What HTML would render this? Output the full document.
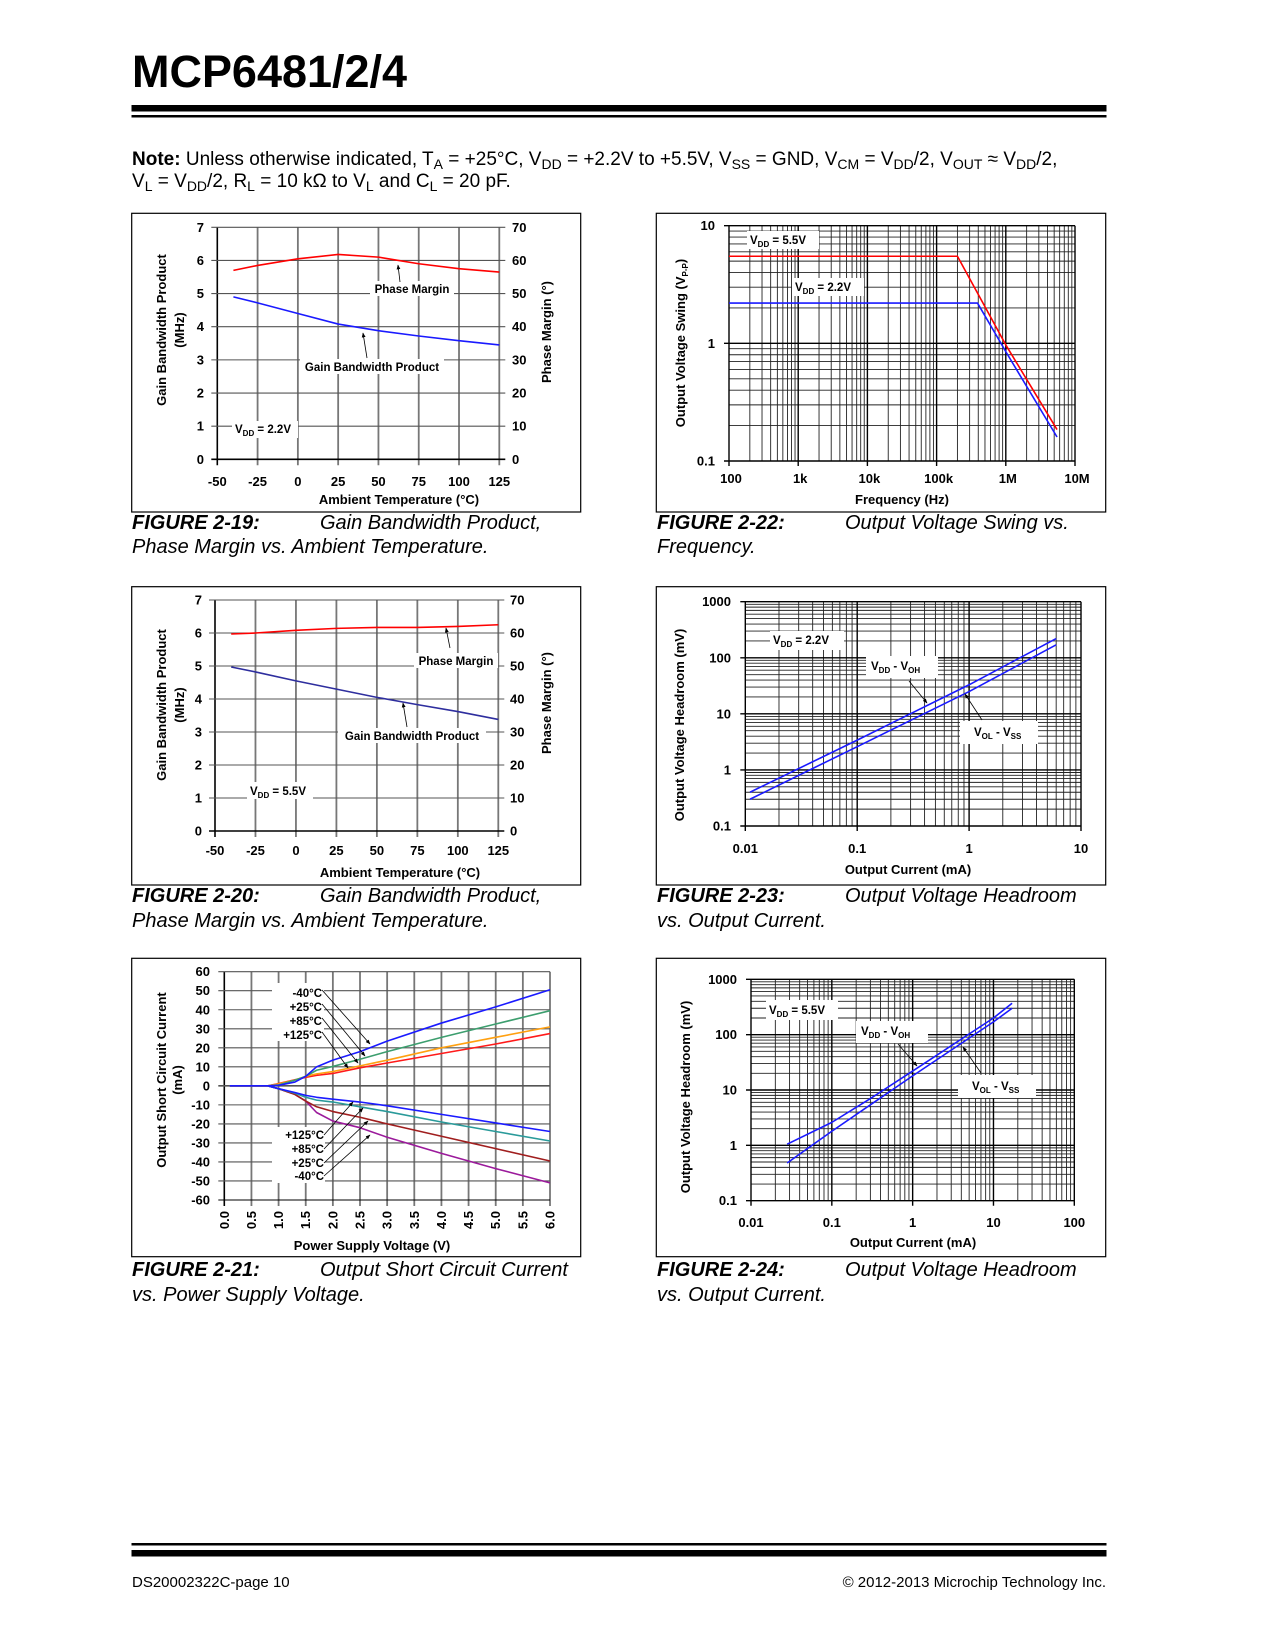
<!DOCTYPE html>
<html><head><meta charset="utf-8"><title>MCP6481/2/4 page 10</title>
<style>
html,body{margin:0;padding:0;background:#fff;}
svg{display:block;font-family:"Liberation Sans",Arial,sans-serif;}
.t{font-weight:bold;font-size:13px;fill:#000;}
.lab{font-weight:bold;font-size:11.5px;fill:#000;}
.cap{font-size:20px;font-style:italic;fill:#000;}
</style></head>
<body>
<svg id="page" width="1275" height="1650" viewBox="0 0 1275 1650" xmlns="http://www.w3.org/2000/svg">
<defs>
<marker id="ah" viewBox="0 0 10 10" refX="9" refY="5" markerWidth="6" markerHeight="6" orient="auto"><path d="M0,1 L10,5 L0,9 z" fill="#000"/></marker>
</defs>
<rect width="1275" height="1650" fill="#fff"/>
<!-- header -->
<text x="132" y="87" font-size="45" font-weight="bold" textLength="275" lengthAdjust="spacingAndGlyphs">MCP6481/2/4</text>
<rect x="131.5" y="105" width="975" height="6.5" fill="#000"/>
<rect x="131.5" y="115" width="975" height="2.5" fill="#000"/>
<text x="132" y="165" font-size="19"><tspan font-weight="bold">Note:</tspan> Unless otherwise indicated, T<tspan font-size="14" dy="4">A</tspan><tspan dy="-4"> = +25°C, V</tspan><tspan font-size="14" dy="4">DD</tspan><tspan dy="-4"> = +2.2V to +5.5V, V</tspan><tspan font-size="14" dy="4">SS</tspan><tspan dy="-4"> = GND, V</tspan><tspan font-size="14" dy="4">CM</tspan><tspan dy="-4"> = V</tspan><tspan font-size="14" dy="4">DD</tspan><tspan dy="-4">/2, V</tspan><tspan font-size="14" dy="4">OUT</tspan><tspan dy="-4"> ≈ V</tspan><tspan font-size="14" dy="4">DD</tspan><tspan dy="-4">/2,</tspan></text>
<text x="132" y="187" font-size="19">V<tspan font-size="14" dy="4">L</tspan><tspan dy="-4"> = V</tspan><tspan font-size="14" dy="4">DD</tspan><tspan dy="-4">/2, R</tspan><tspan font-size="14" dy="4">L</tspan><tspan dy="-4"> = 10 kΩ to V</tspan><tspan font-size="14" dy="4">L</tspan><tspan dy="-4"> and C</tspan><tspan font-size="14" dy="4">L</tspan><tspan dy="-4"> = 20 pF.</tspan></text>

<!-- chart boxes -->
<rect x="131.7" y="213.3" width="449" height="298.7" fill="none" stroke="#000" stroke-width="1.2"/>
<rect x="656.3" y="213.3" width="449.4" height="298.7" fill="none" stroke="#000" stroke-width="1.2"/>
<rect x="131.7" y="586.7" width="449" height="298.3" fill="none" stroke="#000" stroke-width="1.2"/>
<rect x="656.3" y="586.7" width="449.4" height="298.3" fill="none" stroke="#000" stroke-width="1.2"/>
<rect x="131.7" y="958.3" width="449" height="298.4" fill="none" stroke="#000" stroke-width="1.2"/>
<rect x="656.3" y="958.3" width="449.4" height="298.4" fill="none" stroke="#000" stroke-width="1.2"/>

<!-- plot groups filled by script -->
<g id="p19"></g>
<g id="p20"></g>
<g id="p21"></g>
<g id="p22"></g>
<g id="p23"></g>
<g id="p24"></g>

<!-- FIG 19 labels -->
<g>
<rect x="370" y="281" width="84" height="15" fill="#fff"/>
<text class="lab" x="412" y="293" text-anchor="middle">Phase Margin</text>
<line x1="400" y1="282" x2="398" y2="265" stroke="#000" stroke-width="0.8" marker-end="url(#ah)"/>
<rect x="300" y="359" width="144" height="15" fill="#fff"/>
<text class="lab" x="372" y="371" text-anchor="middle">Gain Bandwidth Product</text>
<line x1="367" y1="358" x2="363" y2="333" stroke="#000" stroke-width="0.8" marker-end="url(#ah)"/>
<rect x="232" y="421" width="66" height="17" fill="#fff"/>
<text class="lab" x="235" y="433">V<tspan font-size="8" dy="3">DD</tspan><tspan dy="-3"> = 2.2V</tspan></text>
</g>
<text class="t" transform="translate(166,330) rotate(-90)" text-anchor="middle">Gain Bandwidth Product</text>
<text class="t" transform="translate(184,330) rotate(-90)" text-anchor="middle">(MHz)</text>
<text class="t" transform="translate(551,332) rotate(-90)" text-anchor="middle">Phase Margin (°)</text>
<text class="t" x="399" y="504" text-anchor="middle">Ambient Temperature (°C)</text>
<text class="cap" x="132" y="529"><tspan font-weight="bold">FIGURE 2-19:</tspan><tspan x="320">Gain Bandwidth Product,</tspan></text>
<text class="cap" x="132" y="553">Phase Margin vs. Ambient Temperature.</text>

<!-- FIG 20 labels -->
<g>
<rect x="414" y="653" width="84" height="15" fill="#fff"/>
<text class="lab" x="456" y="665" text-anchor="middle">Phase Margin</text>
<line x1="450" y1="648" x2="446" y2="628" stroke="#000" stroke-width="0.8" marker-end="url(#ah)"/>
<rect x="338" y="728" width="148" height="15" fill="#fff"/>
<text class="lab" x="412" y="740" text-anchor="middle">Gain Bandwidth Product</text>
<line x1="407" y1="727" x2="403" y2="703" stroke="#000" stroke-width="0.8" marker-end="url(#ah)"/>
<rect x="247" y="782" width="66" height="17" fill="#fff"/>
<text class="lab" x="250" y="795">V<tspan font-size="8" dy="3">DD</tspan><tspan dy="-3"> = 5.5V</tspan></text>
</g>
<text class="t" transform="translate(166,705) rotate(-90)" text-anchor="middle">Gain Bandwidth Product</text>
<text class="t" transform="translate(184,705) rotate(-90)" text-anchor="middle">(MHz)</text>
<text class="t" transform="translate(551,703) rotate(-90)" text-anchor="middle">Phase Margin (°)</text>
<text class="t" x="400" y="877" text-anchor="middle">Ambient Temperature (°C)</text>
<text class="cap" x="132" y="902"><tspan font-weight="bold">FIGURE 2-20:</tspan><tspan x="320">Gain Bandwidth Product,</tspan></text>
<text class="cap" x="132" y="927">Phase Margin vs. Ambient Temperature.</text>

<!-- FIG 21 labels -->
<g>
<rect x="272" y="983" width="52" height="58" fill="#fff"/>
<text class="lab" x="322" y="997" text-anchor="end">-40°C</text>
<text class="lab" x="322" y="1011" text-anchor="end">+25°C</text>
<text class="lab" x="322" y="1025" text-anchor="end">+85°C</text>
<text class="lab" x="322" y="1039" text-anchor="end">+125°C</text>
<line x1="322" y1="990" x2="370" y2="1044" stroke="#000" stroke-width="0.8" marker-end="url(#ah)"/>
<line x1="322" y1="1004" x2="365" y2="1056" stroke="#000" stroke-width="0.8" marker-end="url(#ah)"/>
<line x1="322" y1="1018" x2="358" y2="1063" stroke="#000" stroke-width="0.8" marker-end="url(#ah)"/>
<line x1="322" y1="1032" x2="348" y2="1068" stroke="#000" stroke-width="0.8" marker-end="url(#ah)"/>
<rect x="272" y="1127" width="53" height="56" fill="#fff"/>
<text class="lab" x="324" y="1139" text-anchor="end">+125°C</text>
<text class="lab" x="324" y="1153" text-anchor="end">+85°C</text>
<text class="lab" x="324" y="1167" text-anchor="end">+25°C</text>
<text class="lab" x="324" y="1180" text-anchor="end">-40°C</text>
<line x1="324" y1="1135" x2="353" y2="1102" stroke="#000" stroke-width="0.8" marker-end="url(#ah)"/>
<line x1="324" y1="1149" x2="363" y2="1108" stroke="#000" stroke-width="0.8" marker-end="url(#ah)"/>
<line x1="324" y1="1163" x2="368" y2="1121" stroke="#000" stroke-width="0.8" marker-end="url(#ah)"/>
<line x1="324" y1="1176" x2="370" y2="1135" stroke="#000" stroke-width="0.8" marker-end="url(#ah)"/>
</g>
<text class="t" transform="translate(166,1080) rotate(-90)" text-anchor="middle">Output Short Circuit Current</text>
<text class="t" transform="translate(182,1080) rotate(-90)" text-anchor="middle">(mA)</text>
<text class="t" x="372" y="1250" text-anchor="middle">Power Supply Voltage (V)</text>
<text class="cap" x="132" y="1276"><tspan font-weight="bold">FIGURE 2-21:</tspan><tspan x="320">Output Short Circuit Current</tspan></text>
<text class="cap" x="132" y="1301">vs. Power Supply Voltage.</text>

<!-- FIG 22 labels -->
<g>
<rect x="747" y="231" width="72" height="18" fill="#fff"/>
<text class="lab" x="750" y="244">V<tspan font-size="8" dy="3">DD</tspan><tspan dy="-3"> = 5.5V</tspan></text>
<rect x="792" y="278" width="72" height="18" fill="#fff"/>
<text class="lab" x="795" y="291">V<tspan font-size="8" dy="3">DD</tspan><tspan dy="-3"> = 2.2V</tspan></text>
</g>
<text class="t" transform="translate(685,343) rotate(-90)" text-anchor="middle">Output Voltage Swing (V<tspan font-size="8" dy="3">P-P</tspan><tspan dy="-3">)</tspan></text>
<text class="t" x="902" y="504" text-anchor="middle">Frequency (Hz)</text>
<text class="cap" x="657" y="529"><tspan font-weight="bold">FIGURE 2-22:</tspan><tspan x="845">Output Voltage Swing vs.</tspan></text>
<text class="cap" x="657" y="553">Frequency.</text>

<!-- FIG 23 labels -->
<g>
<rect x="770" y="631" width="74" height="19" fill="#fff"/>
<text class="lab" x="773" y="644">V<tspan font-size="8" dy="3">DD</tspan><tspan dy="-3"> = 2.2V</tspan></text>
<rect x="866" y="656" width="72" height="22" fill="#fff"/>
<text class="lab" x="871" y="670">V<tspan font-size="8" dy="3">DD</tspan><tspan dy="-3"> - V</tspan><tspan font-size="8" dy="3">OH</tspan></text>
<line x1="909" y1="681" x2="927" y2="703" stroke="#000" stroke-width="0.8" marker-end="url(#ah)"/>
<rect x="960" y="721" width="78" height="23" fill="#fff"/>
<text class="lab" x="974" y="736">V<tspan font-size="8" dy="3">OL</tspan><tspan dy="-3"> - V</tspan><tspan font-size="8" dy="3">SS</tspan></text>
<line x1="982" y1="720" x2="965" y2="694" stroke="#000" stroke-width="0.8" marker-end="url(#ah)"/>
</g>
<text class="t" transform="translate(684,725) rotate(-90)" text-anchor="middle">Output Voltage Headroom (mV)</text>
<text class="t" x="908" y="874" text-anchor="middle">Output Current (mA)</text>
<text class="cap" x="657" y="902"><tspan font-weight="bold">FIGURE 2-23:</tspan><tspan x="845">Output Voltage Headroom</tspan></text>
<text class="cap" x="657" y="927">vs. Output Current.</text>

<!-- FIG 24 labels -->
<g>
<rect x="766" y="1000" width="72" height="20" fill="#fff"/>
<text class="lab" x="769" y="1014">V<tspan font-size="8" dy="3">DD</tspan><tspan dy="-3"> = 5.5V</tspan></text>
<rect x="856" y="1021" width="72" height="22" fill="#fff"/>
<text class="lab" x="861" y="1035">V<tspan font-size="8" dy="3">DD</tspan><tspan dy="-3"> - V</tspan><tspan font-size="8" dy="3">OH</tspan></text>
<line x1="898" y1="1044" x2="917" y2="1066" stroke="#000" stroke-width="0.8" marker-end="url(#ah)"/>
<rect x="958" y="1075" width="78" height="23" fill="#fff"/>
<text class="lab" x="972" y="1090">V<tspan font-size="8" dy="3">OL</tspan><tspan dy="-3"> - V</tspan><tspan font-size="8" dy="3">SS</tspan></text>
<line x1="981" y1="1073" x2="963" y2="1047" stroke="#000" stroke-width="0.8" marker-end="url(#ah)"/>
</g>
<text class="t" transform="translate(690,1097) rotate(-90)" text-anchor="middle">Output Voltage Headroom (mV)</text>
<text class="t" x="913" y="1247" text-anchor="middle">Output Current (mA)</text>
<text class="cap" x="657" y="1276"><tspan font-weight="bold">FIGURE 2-24:</tspan><tspan x="845">Output Voltage Headroom</tspan></text>
<text class="cap" x="657" y="1301">vs. Output Current.</text>

<!-- footer -->
<rect x="131.5" y="1543" width="975" height="2.5" fill="#000"/>
<rect x="131.5" y="1550" width="975" height="6.5" fill="#000"/>
<text x="132" y="1587" font-size="15">DS20002322C-page 10</text>
<text x="1106" y="1587" font-size="15" text-anchor="end">© 2012-2013 Microchip Technology Inc.</text>
</svg>

<script>
// ---------- data ----------
const tempX19 = [-40, -25, 0, 25, 50, 75, 100, 125];
const gbw19 = [4.9, 4.72, 4.4, 4.08, 3.88, 3.72, 3.58, 3.45];
const pmX19 = [-40, -25, 0, 25, 50, 60, 75, 100, 125];
const pm19 = [57, 58.5, 60.5, 61.8, 61, 60.2, 59, 57.5, 56.5];

const tempX20 = [-40, -25, 0, 25, 50, 75, 100, 125];
const gbw20 = [4.97, 4.82, 4.55, 4.3, 4.05, 3.83, 3.62, 3.38];
const pm20 = [59.7, 60, 60.8, 61.4, 61.7, 61.7, 62, 62.5];

const tempTicks = [-50, -25, 0, 25, 50, 75, 100, 125];
const gbwTicks = [0, 1, 2, 3, 4, 5, 6, 7];
const pmTicks = [0, 10, 20, 30, 40, 50, 60, 70];

const vddX = [0.1, 0.8, 1.0, 1.3, 1.5, 1.7, 2.0, 2.5, 3.0, 4.0, 5.0, 6.0];
const iscSrcM40 = [0, 0, 0.3, 2, 5, 10, 13.5, 18, 23.5, 33, 41.5, 50.5];
const iscSrc25 = [0, 0, 0.5, 3, 5, 8.2, 10.2, 14, 18, 25.5, 32.5, 39.5];
const iscSrc85 = [0, 0, 1, 3, 5, 6.3, 7.5, 10.5, 13.5, 20, 25.5, 31];
const iscSrc125 = [0, 0, 1.2, 3.2, 4.5, 5.5, 6.5, 9.5, 12, 17, 22, 27.5];
const iscSnk125 = [0, 0, -1.5, -3.5, -5, -6, -7, -8.5, -10.5, -15, -19.5, -24];
const iscSnk85 = [0, 0, -1.5, -3.8, -6, -7.5, -8.5, -11, -13.5, -19, -24, -29];
const iscSnk25 = [0, 0, -1.5, -4.5, -8, -11, -13.5, -16.5, -20, -26.5, -33, -39.5];
const iscSnkM40 = [0, 0, -1.5, -4.5, -8, -14, -18.5, -22, -27, -35.5, -43.5, -51];
const vddTicks = ["0.0","0.5","1.0","1.5","2.0","2.5","3.0","3.5","4.0","4.5","5.0","5.5","6.0"];
const iscTicks = [-60, -50, -40, -30, -20, -10, 0, 10, 20, 30, 40, 50, 60];

const freq55 = [100, 200000, 1000000, 5500000];
const swing55 = [5.5, 5.5, 0.97, 0.185];
const freq22 = [100, 390000, 1000000, 5500000];
const swing22 = [2.2, 2.2, 0.85, 0.16];
const freqTicks = ["100", "1k", "10k", "100k", "1M", "10M"];
const swingTicks = ["0.1", "1", "10"];

const iout23 = [0.011, 0.1, 1, 6];
const vohHead23 = [0.4, 3.4, 33, 220];
const volHead23 = [0.3, 2.6, 25, 170];
const iTicks23 = ["0.01", "0.1", "1", "10"];
const headTicks = ["0.1", "1", "10", "100", "1000"];

const ioutVoh24 = [0.028, 0.1, 0.3, 1, 10, 17];
const vohHead24 = [1.05, 2.6, 7, 22, 200, 370];
const ioutVol24 = [0.028, 0.1, 1, 10, 17];
const volHead24 = [0.48, 1.8, 18, 170, 300];
const iTicks24 = ["0.01", "0.1", "1", "10", "100"];

// ---------- helpers ----------
const NS = 'http://www.w3.org/2000/svg';
function mk(parent, tag, attrs, text) {
  const e = document.createElementNS(NS, tag);
  for (const k in attrs) e.setAttribute(k, attrs[k]);
  if (text != null) e.textContent = text;
  parent.appendChild(e);
  return e;
}
function lin(d0, d1, p0, p1) { return v => p0 + (v - d0) / (d1 - d0) * (p1 - p0); }
function logs(d0, d1, p0, p1) { const a = Math.log10(d0), b = Math.log10(d1); return v => p0 + (Math.log10(v) - a) / (b - a) * (p1 - p0); }
function series(g, xs, ys, sx, sy, color, name, w) {
  const pts = xs.map((x, i) => sx(x).toFixed(2) + ',' + sy(ys[i]).toFixed(2)).join(' ');
  const el = mk(g, 'polyline', { points: pts, fill: 'none', stroke: color, 'stroke-width': w || 1.6, 'stroke-linejoin': 'round' });
  
  
  return el;
}

// ---------- linear temperature charts ----------
function tempChart(g, c, gbwX, gbw, pmX, pm, gbwColor, tag) {
  const sx = lin(-50, 125, c.L, c.R), sy = lin(0, 7, c.B, c.T), sy2 = lin(0, 70, c.B, c.T);
  tempTicks.forEach(t => {
    const el = mk(g, 'line', { x1: sx(t), x2: sx(t), y1: c.T, y2: c.B + 6, stroke: t === -50 ? '#000' : '#777', 'stroke-width': t === -50 ? 1.6 : 1.8 });
    
    
    const lb = mk(g, 'text', { x: sx(t), y: c.xl, class: 't', 'text-anchor': 'middle' }, String(t));
    
    
  });
  gbwTicks.forEach(t => {
    const el = mk(g, 'line', { x1: c.L - 6, x2: c.R + 6, y1: sy(t), y2: sy(t), stroke: t === 0 ? '#000' : '#555', 'stroke-width': t === 0 ? 1.6 : 1.1 });
    
    
    const lb = mk(g, 'text', { x: c.yl, y: sy(t) + 4.5, class: 't', 'text-anchor': 'end' }, String(t));
    
    
  });
  pmTicks.forEach(t => {
    const lb = mk(g, 'text', { x: c.y2l, y: sy2(t) + 4.5, class: 't', 'text-anchor': 'start' }, String(t));
    
    
  });
  series(g, pmX, pm, sx, sy2, '#ff0000', tag + '-phase-margin-line');
  series(g, gbwX, gbw, sx, sy, gbwColor, tag + '-gbw-line');
}
tempChart(document.getElementById('p19'), { L: 217.3, R: 499.3, T: 227.3, B: 459.3, xl: 486, yl: 204, y2l: 512 }, tempX19, gbw19, pmX19, pm19, '#1a1aff', 'fig19');
tempChart(document.getElementById('p20'), { L: 215, R: 498.3, T: 600, B: 831, xl: 855, yl: 202, y2l: 510 }, tempX20, gbw20, tempX20, pm20, '#2e2e9e', 'fig20');

// ---------- short circuit chart ----------
(function () {
  const g = document.getElementById('p21');
  const c = { L: 224.3, R: 550, T: 971.7, B: 1200 };
  const sx = lin(0, 6, c.L, c.R), sy = lin(-60, 60, c.B, c.T);
  vddTicks.forEach(t => {
    const v = parseFloat(t);
    const el = mk(g, 'line', { x1: sx(v), x2: sx(v), y1: c.T, y2: c.B + 6, stroke: v === 0 ? '#000' : '#777', 'stroke-width': v === 0 ? 1.6 : 1.8 });
    
    
    const lb = mk(g, 'text', { class: 't', 'text-anchor': 'end', transform: 'translate(' + (sx(v) + 4.5) + ',1211) rotate(-90)' }, t);
    
    
  });
  iscTicks.forEach(t => {
    const el = mk(g, 'line', { x1: c.L - 6, x2: c.R, y1: sy(t), y2: sy(t), stroke: t === -60 ? '#000' : '#555', 'stroke-width': t === 0 ? 1.6 : 1.1 });
    
    
    const lb = mk(g, 'text', { x: 210, y: sy(t) + 4.5, class: 't', 'text-anchor': 'end' }, String(t));
    
    
  });
  series(g, vddX, iscSnkM40, sx, sy, '#9b1a9b', 'sink-minus40c-line');
  series(g, vddX, iscSnk25, sx, sy, '#a01e1e', 'sink-25c-line');
  series(g, vddX, iscSnk85, sx, sy, '#2a9a9a', 'sink-85c-line');
  series(g, vddX, iscSnk125, sx, sy, '#1a1aff', 'sink-125c-line');
  series(g, vddX, iscSrc125, sx, sy, '#ff1a1a', 'source-125c-line');
  series(g, vddX, iscSrc85, sx, sy, '#ffa010', 'source-85c-line');
  series(g, vddX, iscSrc25, sx, sy, '#3c9e6e', 'source-25c-line');
  series(g, vddX, iscSrcM40, sx, sy, '#1a1aff', 'source-minus40c-line');
})();

// ---------- log-log charts ----------
function logGrid(g, c, xd0, xd1, yd0, yd1, xTicks, yTicks) {
  const sx = logs(xd0, xd1, c.L, c.R), sy = logs(yd0, yd1, c.B, c.T);
  for (let d = xd0; d < xd1 * 0.999; d *= 10) {
    for (let m = 2; m <= 9; m++) {
      const el = mk(g, 'line', { x1: sx(d * m), x2: sx(d * m), y1: c.T, y2: c.B, stroke: '#222', 'stroke-width': 0.9 });
      
      
    }
  }
  for (let d = yd0; d < yd1 * 0.999; d *= 10) {
    for (let m = 2; m <= 9; m++) {
      const el = mk(g, 'line', { x1: c.L, x2: c.R, y1: sy(d * m), y2: sy(d * m), stroke: '#222', 'stroke-width': 0.9 });
      
      
    }
  }
  xTicks.forEach((t, i) => {
    const v = xd0 * Math.pow(10, i);
    const el = mk(g, 'line', { x1: sx(v), x2: sx(v), y1: c.T, y2: c.B + 5, stroke: '#000', 'stroke-width': 1.4 });
    
    
    const lb = mk(g, 'text', { x: sx(v) + (c.xoff || 0), y: c.xl, class: 't', 'text-anchor': 'middle' }, t);
    
    
  });
  yTicks.forEach((t, i) => {
    const v = yd0 * Math.pow(10, i);
    const el = mk(g, 'line', { x1: c.L - 5, x2: c.R, y1: sy(v), y2: sy(v), stroke: '#000', 'stroke-width': 1.4 });
    
    
    const lb = mk(g, 'text', { x: c.yl, y: sy(v) + 4.5, class: 't', 'text-anchor': 'end' }, t);
    
    
  });
  return { sx, sy };
}
(function () {
  const g = document.getElementById('p22');
  const s = logGrid(g, { L: 729, R: 1075, T: 225.7, B: 461, xl: 483, yl: 715, xoff: 2 }, 100, 1e7, 0.1, 10, freqTicks, swingTicks);
  series(g, freq55, swing55, s.sx, s.sy, '#ff0000', 'vdd-5v5-swing-line');
  series(g, freq22, swing22, s.sx, s.sy, '#1a1aff', 'vdd-2v2-swing-line');
})();
(function () {
  const g = document.getElementById('p23');
  const s = logGrid(g, { L: 745.3, R: 1081, T: 601.7, B: 826, xl: 853, yl: 731 }, 0.01, 10, 0.1, 1000, iTicks23, headTicks);
  series(g, iout23, vohHead23, s.sx, s.sy, '#1a1aff', 'vdd-minus-voh-line');
  series(g, iout23, volHead23, s.sx, s.sy, '#1a1aff', 'vol-minus-vss-line');
})();
(function () {
  const g = document.getElementById('p24');
  const s = logGrid(g, { L: 751, R: 1074.3, T: 979.3, B: 1200.7, xl: 1227, yl: 737 }, 0.01, 100, 0.1, 1000, iTicks24, headTicks);
  series(g, ioutVoh24, vohHead24, s.sx, s.sy, '#1a1aff', 'vdd-minus-voh-line');
  series(g, ioutVol24, volHead24, s.sx, s.sy, '#1a1aff', 'vol-minus-vss-line');
})();
</script>
</body></html>
